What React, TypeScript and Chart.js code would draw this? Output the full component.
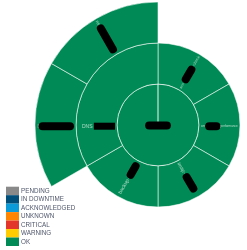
import React, { useEffect, useRef } from 'react';
import { Chart, registerables } from 'chart.js';

Chart.register(...registerables);

// Legend / status palette
const statusNames = ['PENDING', 'IN DOWNTIME', 'ACKNOWLEDGED', 'UNKNOWN', 'CRITICAL', 'WARNING', 'OK'];
const statusColors = ['#898989', '#004f7a', '#0b9bd8', '#ff8500', '#e4352b', '#ffcc00', '#008a55'];

// Root node (centre), redacted in the reference
const rootLabel = '███████';
const rootStatus = 'OK';

// First level (middle ring), clockwise from 12 o'clock
const groupLabels = ['srv-███████-check', 'cm███████performance', 'imap-██████', 'backup-█████', 'DNS ■■■■■■■'];
const groupValues = [1, 1, 1, 1, 2];
const groupStatus = ['OK', 'OK', 'OK', 'OK', 'OK'];

// Second level (outer ring): children of DNS
const dnsIndex = 4;
const dnsChildLabels = ['l██████████', 'ns██████████'];
const dnsChildValues = [1, 1];
const dnsChildStatus = ['OK', 'OK'];

const BORDER = 'rgba(255,255,255,0.55)';
const LABEL_FONT = '"Liberation Sans", Arial, sans-serif';
const LEGEND_FONT = '"Liberation Sans Narrow", "Liberation Sans", Arial, sans-serif';

const colorOf = (s: string) => statusColors[statusNames.indexOf(s)];

type Run = { text: string; kind: 'text' | 'round' | 'rect' };
function splitRuns(text: string): Run[] {
  const runs: Run[] = [];
  for (const ch of text) {
    const kind: Run['kind'] = ch === '█' ? 'round' : ch === '■' ? 'rect' : 'text';
    const last = runs[runs.length - 1];
    if (last && last.kind === kind) last.text += ch;
    else runs.push({ text: ch, kind });
  }
  return runs;
}

function drawRuns(ctx: CanvasRenderingContext2D, runs: Run[], x0: number, dy: number) {
  let x = x0;
  for (const run of runs) {
    const w = ctx.measureText(run.text).width;
    if (run.kind === 'text') {
      ctx.fillStyle = 'rgba(210,238,222,0.8)';
      ctx.fillText(run.text, x, dy);
    } else if (run.kind === 'round') {
      const t = 8;
      ctx.strokeStyle = '#000';
      ctx.lineWidth = t;
      ctx.lineCap = 'round';
      ctx.beginPath();
      const a = x + t / 2;
      const b = Math.max(a, x + w - t / 2);
      ctx.moveTo(a, dy);
      ctx.lineTo(b, dy);
      ctx.stroke();
    } else {
      ctx.fillStyle = '#000';
      ctx.fillRect(x, dy - 3.5, w, 7);
    }
    x += w;
  }
  return x - x0;
}

function runsWidth(ctx: CanvasRenderingContext2D, runs: Run[]) {
  return runs.reduce((s, r) => s + ctx.measureText(r.text).width, 0);
}

const labelsPlugin = {
  id: 'sunburstLabels',
  afterDatasetsDraw(chart: any) {
    const ctx: CanvasRenderingContext2D = chart.ctx;
    const labelSets: (string | null)[][] = [[null, ...dnsChildLabels], groupLabels, [rootLabel]];
    const total = groupValues.reduce((a, b) => a + b, 0);
    const unit = (Math.PI * 2) / total;
    ctx.save();
    ctx.textBaseline = 'middle';
    ctx.textAlign = 'left';
    chart.data.datasets.forEach((_ds: any, di: number) => {
      const meta = chart.getDatasetMeta(di);
      meta.data.forEach((arc: any, i: number) => {
        const text = labelSets[di][i];
        if (!text) return;
        const p = arc.getProps(['x', 'y', 'startAngle', 'innerRadius', 'outerRadius'], true);
        const runs = splitRuns(text);
        if (p.innerRadius < 1) {
          ctx.font = `5.2px ${LABEL_FONT}`;
          const w = runsWidth(ctx, runs);
          ctx.save();
          ctx.translate(p.x, p.y);
          drawRuns(ctx, runs, -w / 2, 0.5);
          ctx.restore();
          return;
        }
        const pad = 2;
        const avail = p.outerRadius - p.innerRadius - pad * 2;
        ctx.font = `10px ${LABEL_FONT}`;
        const w10 = runsWidth(ctx, runs);
        const size = Math.min(5, (avail / w10) * 10);
        ctx.font = `${size}px ${LABEL_FONT}`;
        const w = runsWidth(ctx, runs);
        const angle = p.startAngle + unit / 2;
        const flip = Math.cos(angle) < 0;
        const rStart = p.innerRadius + pad;
        ctx.save();
        ctx.translate(p.x, p.y);
        ctx.rotate(flip ? angle + Math.PI : angle);
        drawRuns(ctx, runs, flip ? -(rStart + w) : rStart, 1.2);
        ctx.restore();
      });
    });
    ctx.restore();
  },
};

const legendPlugin = {
  id: 'statusLegend',
  afterDraw(chart: any) {
    const ctx: CanvasRenderingContext2D = chart.ctx;
    const x = 6;
    const y0 = 186.7;
    const rowH = 8.47;
    ctx.save();
    ctx.textBaseline = 'middle';
    ctx.textAlign = 'left';
    ctx.font = `6.3px ${LEGEND_FONT}`;
    statusNames.forEach((name, i) => {
      const y = y0 + i * rowH;
      ctx.fillStyle = statusColors[i];
      ctx.fillRect(x, y, 13, rowH);
      ctx.fillStyle = '#4f566b';
      ctx.fillText(name, x + 15, y + rowH / 2 + 0.3);
    });
    ctx.restore();
  },
};

export default function App() {
  const ref = useRef<HTMLCanvasElement>(null);
  useEffect(() => {
    const canvas = ref.current;
    if (!canvas) return;
    const gap = groupValues.slice(0, dnsIndex).reduce((a, b) => a + b, 0);
    const total = groupValues.reduce((a, b) => a + b, 0);
    const chart = new Chart(canvas, {
      type: 'doughnut',
      data: {
        datasets: [
          {
            data: [gap, ...dnsChildValues],
            backgroundColor: ['rgba(0,0,0,0)', ...dnsChildStatus.map(colorOf)],
            borderColor: ['rgba(0,0,0,0)', BORDER, BORDER],
            borderWidth: [0, 1, 1],
          },
          {
            data: groupValues,
            backgroundColor: groupStatus.map(colorOf),
            borderColor: BORDER,
            borderWidth: 1,
          },
          {
            data: [total],
            backgroundColor: [colorOf(rootStatus)],
            borderColor: BORDER,
            borderWidth: 1,
          },
        ],
      },
      options: {
        responsive: false,
        animation: false,
        cutout: 0,
        radius: 123,
        layout: { padding: { left: 69, right: 0, top: 0, bottom: 0 } },
        plugins: { legend: { display: false }, tooltip: { enabled: false } },
        events: [],
      } as any,
      plugins: [labelsPlugin, legendPlugin],
    });
    return () => chart.destroy();
  }, []);
  return (
    <div style={{ position: 'fixed', left: 0, top: 0, width: 247, height: 250, background: '#fff', overflow: 'hidden' }}>
      <canvas ref={ref} width={247} height={250} style={{ display: 'block' }} />
    </div>
  );
}
